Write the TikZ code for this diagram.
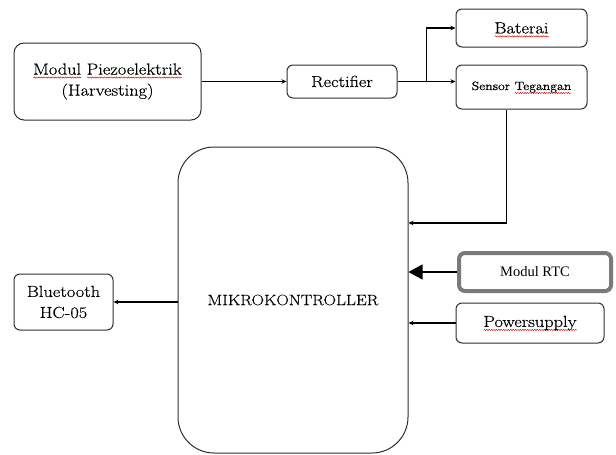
\documentclass[tikz,border=0pt]{standalone}
\usepackage{fontspec}
\setmainfont{Latin Modern Roman}[FakeStretch=1.15,FakeBold=0.4]
\newfontfamily\timesfont{Liberation Serif}
\usetikzlibrary{arrows.meta,calc,decorations.pathmorphing}
\newsavebox\wavebox
\newcommand\spellwave[1]{\sbox\wavebox{#1}\smash{\rlap{\tikz[baseline=0pt,x=1pt,y=1pt,sharp corners]\draw[red!85!black,line width=0.45pt,sharp corners,decorate,decoration={snake,amplitude=0.6pt,segment length=2.4pt}] (0pt,-3pt) -- (\wd\wavebox,-3pt);}}\usebox\wavebox}
\definecolor{boxline}{HTML}{2B2F36}
\definecolor{rtcgray}{HTML}{7A7A7A}
\tikzset{
  blk/.style={draw=boxline, line width=1pt, rounded corners=6pt, fill=white,
    inner sep=0pt, align=center, font=\fontsize{16}{21}\selectfont},
  conn/.style={draw=black, line width=1.3pt, -{Stealth[length=5pt,width=4.5pt]}},
  bigconn/.style={draw=black, line width=1.2pt, -{Triangle[length=14pt,width=15pt]}}
}
\begin{document}
\begin{tikzpicture}[x=1pt,y=-1pt]
\useasboundingbox (0,0) rectangle (616,455);
\node[blk, rounded corners=10pt, minimum width=187pt, minimum height=77pt] (piezo) at (107.5,81.5)
  {\spellwave{Modul} \spellwave{Piezoelektrik}\\(Harvesting)};
\node[blk, minimum width=110pt, minimum height=33pt] (rect) at (342,81.5) {Rectifier};
\node[blk, minimum width=131pt, minimum height=38pt] (bat) at (521.5,28) {\spellwave{Baterai}};
\node[blk, minimum width=131pt, minimum height=44pt, font=\fontsize{12}{14}\selectfont] (sens) at (521.5,87)
  {Sensor \spellwave{Tegangan}};
\node[blk, rounded corners=36pt, minimum width=230pt, minimum height=306pt, font=\fontsize{15}{18}\selectfont] (mcu) at (293,300)
  {\raisebox{-3pt}{MIKROKONTROLLER}};
\node[blk, draw=rtcgray, line width=4pt, minimum width=152pt, minimum height=38pt, font=\timesfont\fontsize{14.5}{18}\selectfont] (rtc) at (535,272)
  {Modul RTC};
\node[blk, minimum width=148pt, minimum height=40pt] (pwr) at (530,323) {\spellwave{Powersupply}};
\node[blk, minimum width=99pt, minimum height=56pt] (bt) at (63.5,302) {Bluetooth\\HC-05};

\coordinate (branch) at ($(rect.east)+(29,0)$);
\draw[conn] (piezo.east) -- (rect.west);
\draw[conn] (rect.east) -- (rect.east -| sens.west);
\draw[conn] (branch) |- (bat.west);
\draw[conn] ([xshift=-15pt]sens.south) |- ([yshift=77pt]mcu.east);
\draw[bigconn] (rtc.west) -- (rtc.west -| mcu.east);
\draw[conn] (pwr.west) -- (pwr.west -| mcu.east);
\draw[conn] (bt.east -| mcu.west) -- (bt.east);
\end{tikzpicture}
\end{document}
